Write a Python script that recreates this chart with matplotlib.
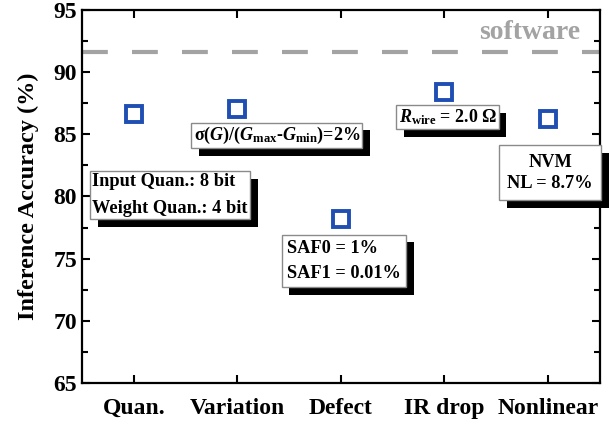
import matplotlib.pyplot as plt
import matplotlib.patheffects as pe
from matplotlib.ticker import MultipleLocator

plt.rcParams['font.family'] = 'Liberation Serif'
plt.rcParams['font.weight'] = 'bold'
plt.rcParams['mathtext.fontset'] = 'custom'
plt.rcParams['mathtext.rm'] = 'Liberation Serif:bold'
plt.rcParams['mathtext.it'] = 'Liberation Serif:bold:italic'
plt.rcParams['mathtext.bf'] = 'Liberation Serif:bold'

categories = ['Quan.', 'Variation', 'Defect', 'IR drop', 'Nonlinear']
accuracy = [86.6, 87.0, 78.2, 88.4, 86.2]
software_acc = 91.6

notes = [
    'Input Quan.: 8 bit\nWeight Quan.: 4 bit',
    r'σ($G$)/($G_{\mathrm{max}}$-$G_{\mathrm{min}}$)=2%',
    'SAF0 = 1%\nSAF1 = 0.01%',
    r'$R_{\mathrm{wire}}$ = 2.0 Ω',
    'NVM\nNL = 8.7%',
]
note_x = [0.35, 1.38, 2.03, 3.03, 4.02]
note_y = [80.1, 84.9, 74.8, 86.4, 81.9]
note_align = ['left', 'center', 'left', 'center', 'center']
note_spacing = [1.75, 1.2, 1.6, 1.2, 1.35]
note_pad = [0.12, 0.12, 0.3, 0.12, 0.45]
note_size = [13.2, 13, 13.2, 13, 13.2]

fig = plt.figure(figsize=(6.09, 4.25), dpi=100)
ax = fig.add_axes([0.1346, 0.099, 0.8504, 0.8775])

x = list(range(len(categories)))
ax.plot(x, accuracy, linestyle='none', marker='s', markersize=11,
        markerfacecolor='white', markeredgecolor='#1f4fb3', markeredgewidth=2.8)

ax.axhline(software_acc, color='#a3a3a3', linewidth=3, dashes=(6.2, 5.8))
ax.text(3.82, 93.2, 'software', color='#a3a3a3', fontsize=20,
        ha='center', va='center', fontweight='bold')

shadow = [pe.withSimplePatchShadow(offset=(5.5, -5.5), shadow_rgbFace='black', alpha=1.0)]
for nx, ny, txt, al, ls, pd, fs in zip(note_x, note_y, notes, note_align,
                                       note_spacing, note_pad, note_size):
    t = ax.text(nx, ny, txt, fontsize=fs, ha='center', va='center',
                multialignment=al, linespacing=ls, fontweight='bold',
                bbox=dict(boxstyle=f'square,pad={pd}', facecolor='white',
                          edgecolor='#8a8a8a', linewidth=1.0))
    t.get_bbox_patch().set_path_effects(shadow)

ax.set_xlim(-0.5, 4.5)
ax.set_ylim(65, 95)
ax.set_xticks(x)
ax.set_xticklabels(categories)
ax.yaxis.set_major_locator(MultipleLocator(5))
ax.yaxis.set_minor_locator(MultipleLocator(2.5))
ax.tick_params(axis='both', which='major', direction='in', length=6, width=1.5,
               labelsize=17, top=True, right=True)
ax.tick_params(axis='y', which='minor', direction='in', length=4, width=1.5, right=True)
ax.tick_params(axis='x', which='major', pad=11)
ax.set_ylabel('Inference Accuracy (%)', fontsize=17.5, fontweight='bold', labelpad=10)
for sp in ax.spines.values():
    sp.set_linewidth(1.6)

fig.savefig('out.png', dpi=100)
